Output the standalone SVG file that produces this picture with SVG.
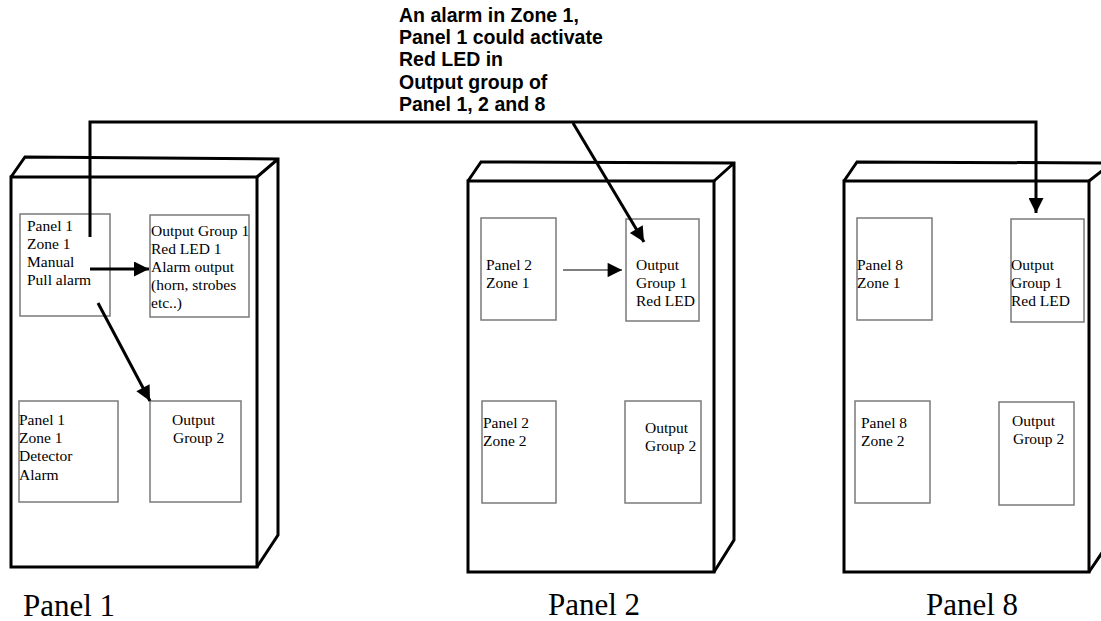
<svg xmlns="http://www.w3.org/2000/svg" width="1101" height="621" viewBox="0 0 1101 621">
<style>
.cab{fill:none;stroke:#000;stroke-width:3;stroke-linejoin:miter}
.box{fill:#fff;stroke:#7a7a7a;stroke-width:1.5}
.t{font-family:"Liberation Serif","Times New Roman",serif;font-size:15.5px;fill:#000}
.lbl{font-family:"Liberation Serif","Times New Roman",serif;font-size:31px;fill:#000}
.note{font-family:"Liberation Sans",Arial,sans-serif;font-size:19.5px;font-weight:bold;fill:#000}
.wire{fill:none;stroke:#000;stroke-width:3}
.thin{fill:none;stroke:#000;stroke-width:1.2}
</style>
<defs>
<marker id="ah" viewBox="0 0 10 10" refX="10" refY="5" markerWidth="6" markerHeight="5" orient="auto" markerUnits="strokeWidth">
<path d="M0,0 L10,5 L0,10 Z" fill="#000"/>
</marker>
<marker id="ahs" viewBox="0 0 10 10" refX="10" refY="5" markerWidth="15" markerHeight="12" orient="auto" markerUnits="strokeWidth">
<path d="M0,0 L10,5 L0,10 Z" fill="#000"/>
</marker>
</defs>
<rect width="1101" height="621" fill="#fff"/>

<g id="panel1">
<path class="cab" d="M11,177 L257,177 L257,567 L11,567 Z"/>
<path class="cab" d="M11,177 L25,157 L278,159 L278,535 L257,567 M257,177 L278,159"/>
<rect class="box" x="20" y="214" width="90" height="102"/>
<rect class="box" x="150" y="215" width="99" height="102"/>
<rect class="box" x="19" y="401" width="99" height="101"/>
<rect class="box" x="150" y="401" width="91" height="101"/>
<text class="t" x="27" y="231">Panel 1</text>
<text class="t" x="27" y="249">Zone 1</text>
<text class="t" x="27" y="267">Manual</text>
<text class="t" x="27" y="285">Pull alarm</text>
<text class="t" x="151" y="236">Output Group 1</text>
<text class="t" x="151" y="254">Red LED 1</text>
<text class="t" x="151" y="272">Alarm output</text>
<text class="t" x="151" y="290">(horn, strobes</text>
<text class="t" x="151" y="308">etc..)</text>
<text class="t" x="19" y="425">Panel 1</text>
<text class="t" x="19" y="443">Zone 1</text>
<text class="t" x="19" y="461">Detector</text>
<text class="t" x="19" y="480">Alarm</text>
<text class="t" x="172" y="425">Output</text>
<text class="t" x="173" y="443">Group 2</text>
<text class="lbl" x="23" y="616">Panel 1</text>
</g>

<g id="panel2">
<path class="cab" d="M468,181 L714,181 L714,572 L468,572 Z"/>
<path class="cab" d="M468,181 L481,162 L734,163 L734,540 L714,572 M714,181 L734,163"/>
<rect class="box" x="481" y="218" width="75" height="102"/>
<rect class="box" x="626" y="219" width="73" height="102"/>
<rect class="box" x="482" y="401" width="74" height="102"/>
<rect class="box" x="625" y="401" width="76" height="102"/>
<text class="t" x="486" y="270">Panel 2</text>
<text class="t" x="486" y="288">Zone 1</text>
<text class="t" x="636" y="270">Output</text>
<text class="t" x="636" y="288">Group 1</text>
<text class="t" x="636" y="306">Red LED</text>
<text class="t" x="483" y="428">Panel 2</text>
<text class="t" x="483" y="446">Zone 2</text>
<text class="t" x="645" y="433">Output</text>
<text class="t" x="645" y="451">Group 2</text>
<text class="lbl" x="548" y="615">Panel 2</text>
</g>

<g id="panel8">
<path class="cab" d="M844,181 L1089,181 L1089,572 L844,572 Z"/>
<path class="cab" d="M844,181 L857,162 L1112,163 L1112,538 L1089,572 M1089,181 L1112,163"/>
<rect class="box" x="857" y="218" width="75" height="102"/>
<rect class="box" x="1011" y="219" width="73" height="103"/>
<rect class="box" x="855" y="401" width="75" height="102"/>
<rect class="box" x="999" y="402" width="75" height="103"/>
<text class="t" x="857" y="270">Panel 8</text>
<text class="t" x="857" y="288">Zone 1</text>
<text class="t" x="1011" y="270">Output</text>
<text class="t" x="1011" y="288">Group 1</text>
<text class="t" x="1011" y="306">Red LED</text>
<text class="t" x="861" y="428">Panel 8</text>
<text class="t" x="861" y="446">Zone 2</text>
<text class="t" x="1012" y="426">Output</text>
<text class="t" x="1013" y="444">Group 2</text>
<text class="lbl" x="926" y="615">Panel 8</text>
</g>

<g id="note">
<text class="note" x="399" y="22">An alarm in Zone 1,</text>
<text class="note" x="399" y="44">Panel 1 could activate</text>
<text class="note" x="399" y="66">Red LED in</text>
<text class="note" x="399" y="89">Output group of</text>
<text class="note" x="399" y="111">Panel 1, 2 and 8</text>
</g>

<g id="connectors">
<path class="wire" d="M90,237 L90,122 L1036,122 L1036,213" marker-end="url(#ah)"/>
<path class="wire" d="M90,269 L149,269" marker-end="url(#ah)"/>
<path class="wire" d="M98,303 L150,401" marker-end="url(#ah)"/>
<path class="wire" d="M573,123 L644,242" marker-end="url(#ah)"/>
<path class="thin" d="M563,270 L622,270" marker-end="url(#ahs)"/>
</g>
</svg>
